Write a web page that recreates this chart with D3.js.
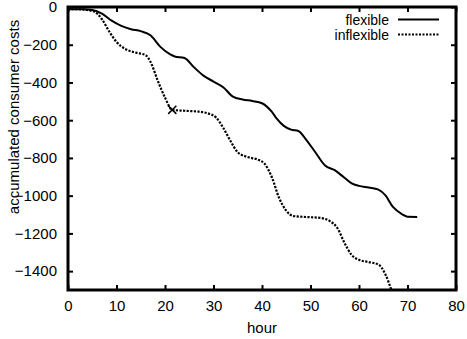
<!DOCTYPE html>
<html lang="en">
<head>
  <meta charset="UTF-8" />
  <title>Accumulated consumer costs</title>
  <script src="https://cdn.jsdelivr.net/npm/d3@7/dist/d3.min.js"></script>
  <style>
    body { margin: 0; background: #fff; font-family: "Liberation Sans", Arial, sans-serif; }
    #viz { width: 467px; height: 339px; }
    text { fill: #000; }
  </style>
</head>
<body>
  <div id="viz"></div>

  <script>
  // data (hour, accumulated cost)
  const flexHours = [0, 1, 3, 5, 7, 9, 11, 13, 15, 17, 19, 21, 22, 24, 26, 28, 30, 32, 34, 36, 38, 40,
                     42, 43, 44.5, 46, 47.5, 49, 51, 53, 55, 57, 58.5, 60, 62, 64, 65.5, 67, 69, 70, 72];
  const flexCosts = [-12, -12, -12, -16, -35, -72, -100, -118, -128, -150, -210, -250, -262, -270, -320, -365, -395, -425, -475, -490, -498, -510,
                     -555, -590, -630, -650, -657, -700, -770, -840, -865, -905, -935, -948, -957, -968, -1000, -1060, -1100, -1112, -1113];

  const inflexHours = [0, 2, 4, 5.5, 7, 8.5, 10, 12, 14, 16, 17, 18.5, 20, 21.5, 24, 27, 29, 30.5, 32, 33.5, 35, 37, 39, 40.5,
                       42, 43.5, 45, 46.5, 49, 52, 54, 55.5, 57, 58.5, 60, 62, 64, 65.5, 66.8];
  const inflexCosts = [-12, -12, -16, -25, -65, -130, -185, -225, -242, -255, -290, -390, -480, -545, -550, -555, -565, -585, -640, -710, -770, -795, -808, -830,
                       -900, -1010, -1080, -1108, -1113, -1118, -1135, -1170, -1250, -1315, -1340, -1352, -1365, -1420, -1510];

  const markerHours = [21.5];
  const markerCosts = [-545];

  const seriesNames = ['flexible', 'inflexible'];
  const xTicks = [0, 10, 20, 30, 40, 50, 60, 70, 80];
  const yTicks = [0, -200, -400, -600, -800, -1000, -1200, -1400];

  function drawViz() {
    const W = 467, H = 339;
    const margin = { top: 7, right: 11, bottom: 49, left: 68 };
    const width = W - margin.left - margin.right;
    const height = H - margin.top - margin.bottom;

    const svg = d3.select('#viz').append('svg')
      .attr('width', W).attr('height', H)
      .style('font-family', '"Liberation Sans", Arial, sans-serif');
    const g = svg.append('g').attr('transform', `translate(${margin.left},${margin.top})`);

    const x = d3.scaleLinear().domain([0, 80]).range([0, width]);
    const y = d3.scaleLinear().domain([-1500, 0]).range([height, 0]);

    g.append('clipPath').attr('id', 'clip')
      .append('rect').attr('width', width).attr('height', height);

    // inward ticks on all four sides
    const tickStyle = sel => {
      sel.select('.domain').remove();
      sel.selectAll('.tick line').attr('stroke', '#000').attr('stroke-width', 2);
    };
    const plain = d3.format('d');
    g.append('g').attr('transform', `translate(0,${height})`)
      .call(d3.axisBottom(x).tickValues(xTicks).tickSize(-5).tickPadding(10).tickFormat(plain))
      .call(tickStyle)
      .call(s => s.selectAll('text').attr('font-size', 15).attr('font-family', 'inherit'));
    g.append('g')
      .call(d3.axisTop(x).tickValues(xTicks).tickSize(-5).tickFormat(''))
      .call(tickStyle);
    g.append('g')
      .call(d3.axisLeft(y).tickValues(yTicks).tickSize(-5).tickPadding(11).tickFormat(plain))
      .call(tickStyle)
      .call(s => s.selectAll('text').attr('font-size', 15).attr('font-family', 'inherit'));
    g.append('g').attr('transform', `translate(${width},0)`)
      .call(d3.axisRight(y).tickValues(yTicks).tickSize(-5).tickFormat(''))
      .call(tickStyle);

    // lines
    const flex = flexHours.map((h, i) => ({ h, v: flexCosts[i] }));
    const inflex = inflexHours.map((h, i) => ({ h, v: inflexCosts[i] }));
    const line = d3.line().x(d => x(d.h)).y(d => y(d.v)).curve(d3.curveMonotoneX);
    const lines = g.append('g').attr('clip-path', 'url(#clip)');
    lines.append('path').datum(flex)
      .attr('fill', 'none').attr('stroke', '#000').attr('stroke-width', 2)
      .attr('d', line);
    lines.append('path').datum(inflex)
      .attr('fill', 'none').attr('stroke', '#000').attr('stroke-width', 2.2)
      .attr('stroke-dasharray', '2.2 1.4')
      .attr('d', line);

    g.selectAll('.marker')
      .data(markerHours.map((h, i) => ({ h, v: markerCosts[i] })))
      .enter().append('path')
      .attr('class', 'marker')
      .attr('transform', d => `translate(${x(d.h)},${y(d.v)})`)
      .attr('d', d3.symbol(d3.symbolTimes).size(45))
      .attr('fill', 'none').attr('stroke', '#000').attr('stroke-width', 1.5);

    // frame
    g.append('rect')
      .attr('width', width).attr('height', height)
      .attr('fill', 'none').attr('stroke', '#000').attr('stroke-width', 3);

    // legend
    const legend = g.append('g').attr('transform', `translate(${width - 58},0)`);
    seriesNames.forEach((name, i) => {
      const ly = 12.5 + i * 15;
      legend.append('text')
        .attr('x', -9).attr('y', ly + 5)
        .attr('text-anchor', 'end').attr('font-size', 14)
        .text(name);
      legend.append('line')
        .attr('x1', 0).attr('x2', 41).attr('y1', ly).attr('y2', ly)
        .attr('stroke', '#000').attr('stroke-width', 2)
        .attr('stroke-dasharray', i === 1 ? '2 1.5' : null);
    });

    // axis titles
    svg.append('text')
      .attr('x', margin.left + width / 2).attr('y', 333)
      .attr('text-anchor', 'middle').attr('font-size', 15)
      .text('hour');
    svg.append('text')
      .attr('transform', 'translate(19,117) rotate(-90)')
      .attr('text-anchor', 'middle').attr('font-size', 15)
      .text('accumulated consumer costs');
  }

  document.addEventListener('DOMContentLoaded', drawViz);
  </script>
</body>
</html>
